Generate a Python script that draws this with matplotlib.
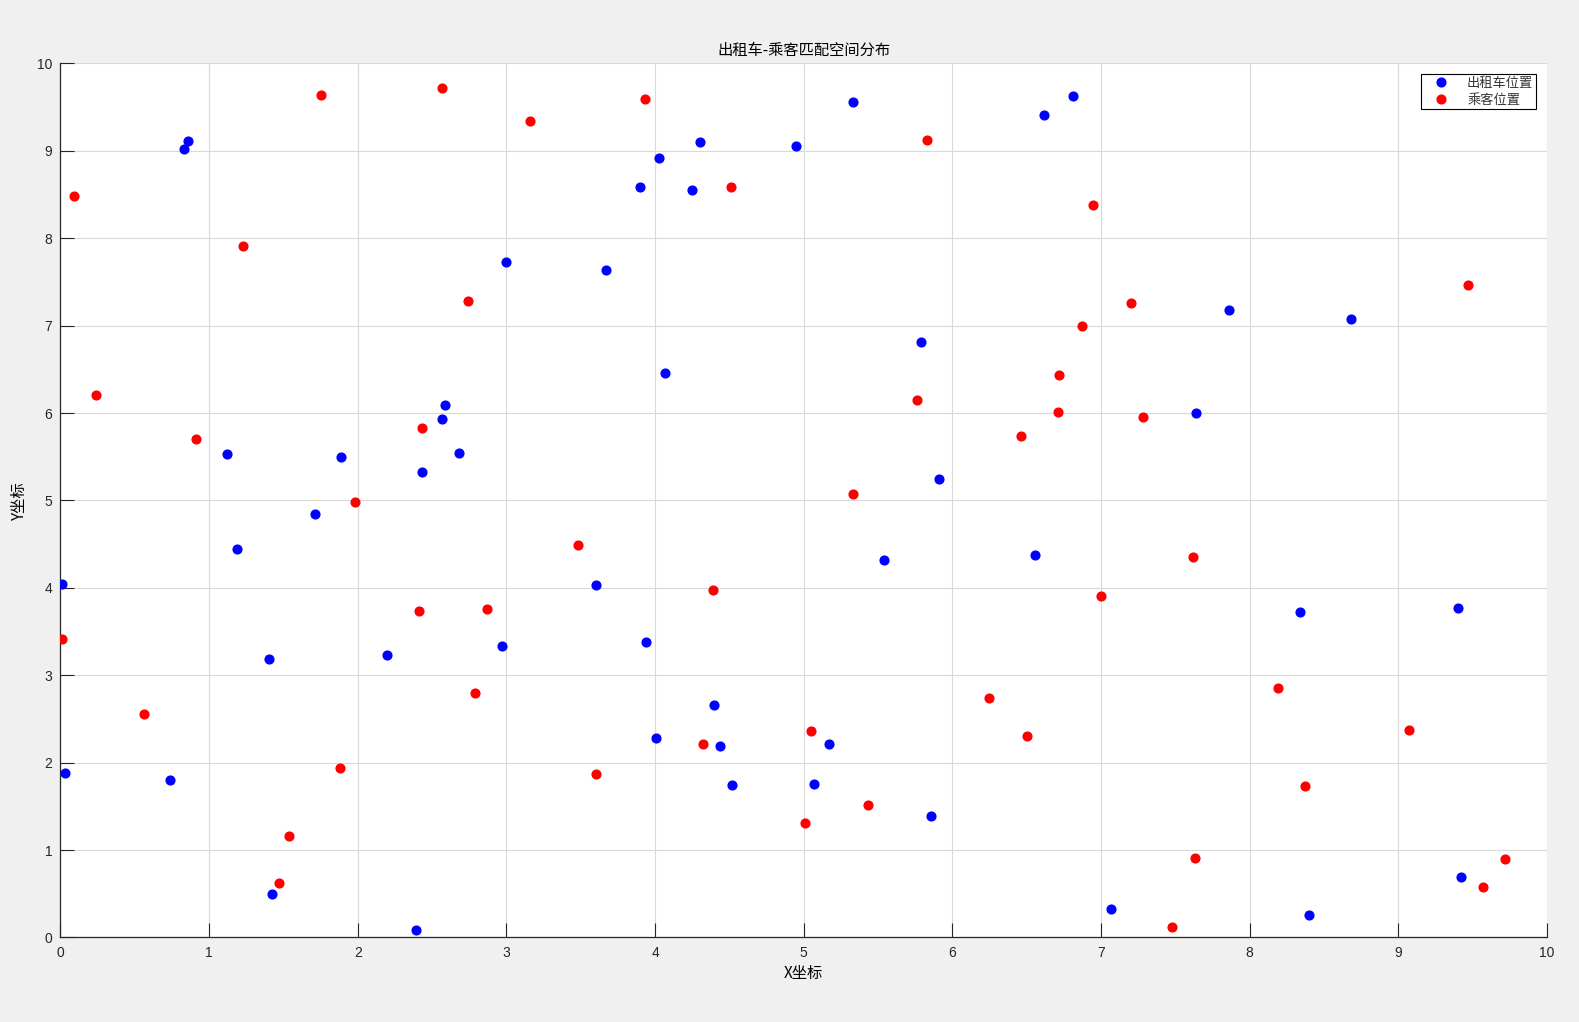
import matplotlib
matplotlib.use("Agg")
import matplotlib.pyplot as plt

# taxi positions (blue)
taxi_x = [0.01, 0.03, 0.83, 0.86, 0.74, 1.12, 1.19, 1.40, 1.42, 1.71,
          1.89, 2.20, 2.39, 2.43, 2.57, 2.59, 2.68, 2.97, 3.00, 3.60,
          3.67, 3.90, 3.94, 4.01, 4.03, 4.07, 4.25, 4.30, 4.40, 4.44,
          4.52, 4.95, 5.07, 5.17, 5.33, 5.54, 5.79, 5.86, 5.91, 6.56,
          6.62, 6.81, 7.07, 7.64, 7.86, 8.34, 8.40, 8.68, 9.40, 9.42]
taxi_y = [4.04, 1.88, 9.02, 9.11, 1.80, 5.53, 4.44, 3.19, 0.50, 4.84,
          5.50, 3.23, 0.08, 5.33, 5.93, 6.09, 5.54, 3.33, 7.73, 4.03,
          7.64, 8.58, 3.38, 2.28, 8.92, 6.46, 8.55, 9.10, 2.66, 2.19,
          1.75, 9.06, 1.76, 2.21, 9.56, 4.32, 6.81, 1.39, 5.24, 4.38,
          9.41, 9.63, 0.33, 6.00, 7.18, 3.72, 0.26, 7.07, 3.77, 0.69]

# passenger positions (red)
pass_x = [0.01, 0.09, 0.24, 0.56, 0.91, 1.23, 1.47, 1.54, 1.75, 1.88,
          1.98, 2.41, 2.43, 2.57, 2.74, 2.79, 2.87, 3.16, 3.48, 3.60,
          3.93, 4.32, 4.39, 4.51, 5.01, 5.05, 5.33, 5.43, 5.76, 5.83,
          6.25, 6.46, 6.50, 6.71, 6.72, 6.87, 6.95, 7.00, 7.20, 7.28,
          7.48, 7.62, 7.63, 8.19, 8.37, 9.07, 9.47, 9.57, 9.72]
pass_y = [3.42, 8.48, 6.21, 2.56, 5.70, 7.91, 0.62, 1.16, 9.64, 1.94,
          4.98, 3.74, 5.83, 9.72, 7.28, 2.80, 3.76, 9.34, 4.49, 1.87,
          9.59, 2.21, 3.97, 8.59, 1.31, 2.36, 5.07, 1.52, 6.15, 9.12,
          2.74, 5.74, 2.30, 6.01, 6.43, 7.00, 8.38, 3.91, 7.26, 5.96,
          0.12, 4.35, 0.91, 2.85, 1.73, 2.37, 7.47, 0.58, 0.90]

xticks = list(range(0, 11))
yticks = list(range(0, 11))

cjk = ['Noto Sans CJK SC', 'DejaVu Sans']
plt.rcParams['font.family'] = ['Liberation Sans', 'Noto Sans CJK SC', 'DejaVu Sans']

fig = plt.figure(figsize=(15.79, 10.22), dpi=100, facecolor='#f0f0f0')
ax = fig.add_axes([0.0383, 0.0827, 0.9413, 0.8553])
ax.set_facecolor('white')

ax.plot(taxi_x, taxi_y, 'o', color='blue', markersize=6.3, label='出租车位置', zorder=3)
ax.plot(pass_x, pass_y, 'o', color='red', markersize=6.3, label='乘客位置', zorder=3)

ax.set_xlim(0, 10)
ax.set_ylim(0, 10)
ax.set_xticks(xticks)
ax.set_yticks(yticks)
ax.tick_params(direction='in', length=10, width=0.8, labelsize=10, colors='#262626', pad=6)
ax.grid(True, color='#d9d9d9', linewidth=0.8)
ax.set_axisbelow(True)
for s in ['top', 'right']:
    ax.spines[s].set_visible(False)
for s in ['left', 'bottom']:
    ax.spines[s].set_color('#262626')
    ax.spines[s].set_linewidth(0.9)

ax.set_title('出租车-乘客匹配空间分布', fontsize=11, family=cjk, pad=6)
ax.set_xlabel('X坐标', fontsize=11, family=cjk, labelpad=4)
ax.set_ylabel('Y坐标', fontsize=11, family=cjk, labelpad=6)

# legend box sits just inside the top right corner
leg = ax.legend(loc='upper right', bbox_to_anchor=(1536 / 1579, 1 - 74 / 1022),
                bbox_transform=fig.transFigure, prop={'family': cjk, 'size': 9.5},
                fancybox=False, framealpha=1, edgecolor='black', borderpad=0.2,
                borderaxespad=0, handletextpad=0.6, labelspacing=0.3, handlelength=2.7)
leg.get_frame().set_linewidth(0.8)
for t in leg.get_texts():
    t.set_color('#333333')

fig.savefig('out.png', dpi=100, facecolor=fig.get_facecolor())
